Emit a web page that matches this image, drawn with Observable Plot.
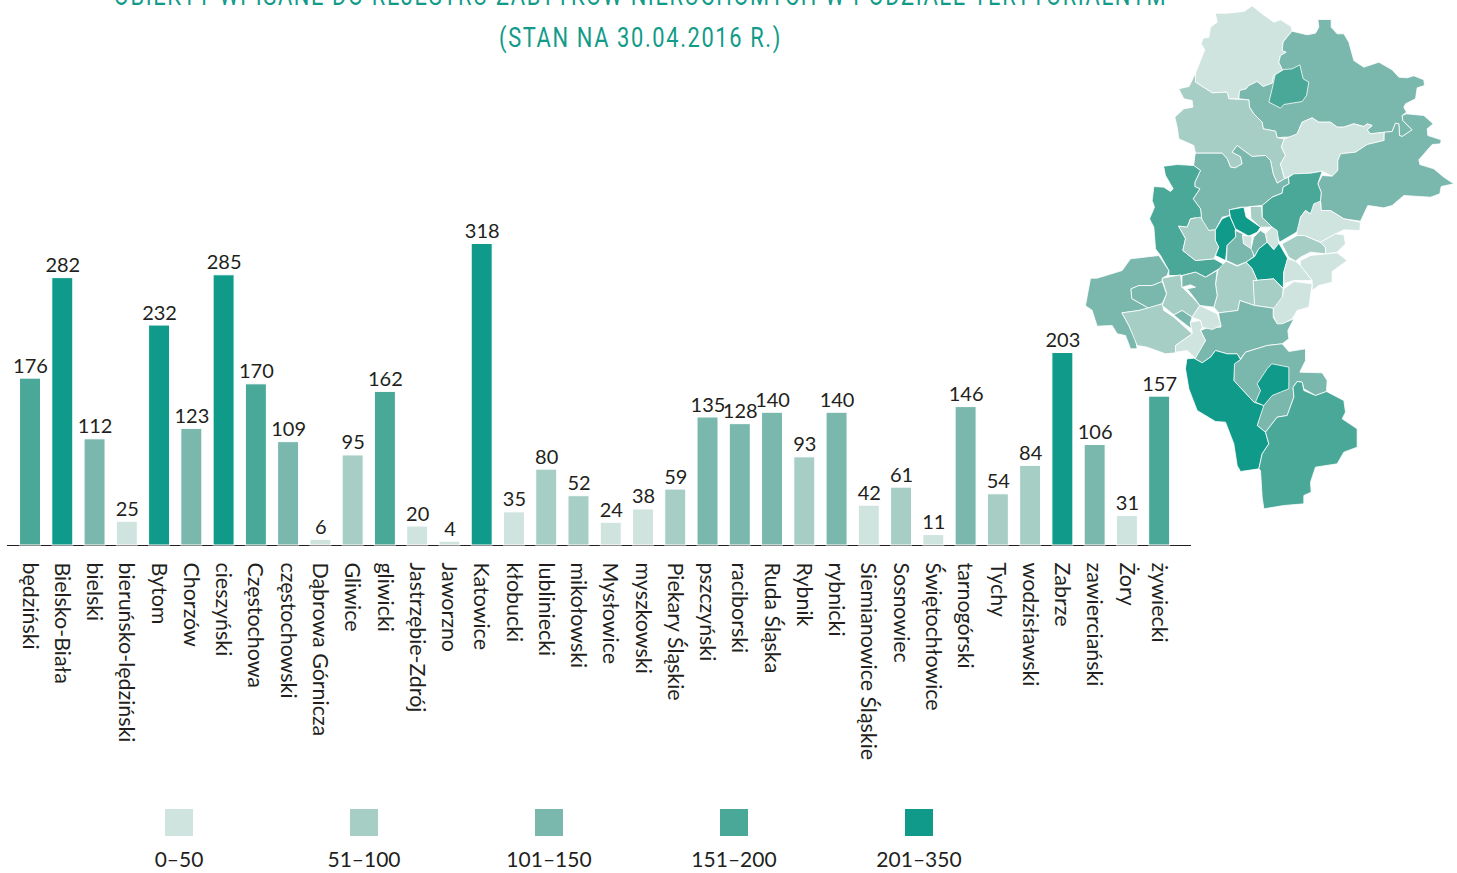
<!DOCTYPE html>
<html><head><meta charset="utf-8">
<script src="https://cdn.jsdelivr.net/npm/d3@7"></script>
<script src="https://cdn.jsdelivr.net/npm/@observablehq/plot@0.6"></script>
<style>
html,body{margin:0;padding:0;background:#fff;overflow:hidden}
#root{position:relative;width:1457px;height:873px;overflow:hidden;font-family:Lato,sans-serif;color:#231f20}
.t{position:absolute;left:-200px;width:1681px;text-align:center;color:#119b89;font-family:Roboto,sans-serif;font-size:27px;letter-spacing:2px;line-height:32px;white-space:nowrap;transform:scaleX(.81);transform-origin:840.5px 0}
#map{position:absolute;left:1080px;top:0}
#main{position:absolute;left:0;top:0}
.sw{position:absolute;top:809px;width:28px;height:27px}
.lb{position:absolute;top:846px;width:140px;text-align:center;font-size:21px;line-height:26px}
svg{overflow:visible}
</style></head><body><div id="root"></div>
<script>
const titleLines = ["OBIEKTY WPISANE DO REJESTRU ZABYTKÓW NIERUCHOMYCH W PODZIALE TERYTORIALNYM","(STAN NA 30.04.2016 R.)"];
const names = ["będziński","Bielsko-Biała","bielski","bieruńsko-lędziński","Bytom","Chorzów","cieszyński","Częstochowa","częstochowski","Dąbrowa Górnicza","Gliwice","gliwicki","Jastrzębie-Zdrój","Jaworzno","Katowice","kłobucki","lubliniecki","mikołowski","Mysłowice","myszkowski","Piekary Śląskie","pszczyński","raciborski","Ruda Śląska","Rybnik","rybnicki","Siemianowice Śląskie","Sosnowiec","Świętochłowice","tarnogórski","Tychy","wodzisławski","Zabrze","zawierciański","Żory","żywiecki"];
const values = [176,282,112,25,232,123,285,170,109,6,95,162,20,4,318,35,80,52,24,38,59,135,128,140,93,140,42,61,11,146,54,84,203,106,31,157];
const classLabels = ["0–50","51–100","101–150","151–200","201–350"];
const classBreaks = [51,101,151,201];
const classColors = ["#d0e4df","#a6cec5","#7ab7ad","#4aa899","#109a89"];

// Outlines of the powiats, in map units
const regionShapes = [
["kłobucki",[405,38,440,38,490,33,515,16,545,40,580,65,600,58,632,78,635,92,608,125,605,150,617,155,600,165,595,185,607,210,580,225,575,248,548,258,530,243,505,255,497,265,477,270,475,295,445,295,440,275,395,277,345,245,345,218,360,180,373,148,362,130,368,113,385,110,390,80,410,65]],
["częstochowski",[635,92,680,103,705,98,715,80,712,57,752,57,752,80,770,100,790,100,805,125,820,180,850,200,895,185,935,208,955,230,980,232,1000,226,1030,238,1032,255,1010,262,1005,295,975,310,970,320,978,335,965,345,967,360,995,388,965,408,957,405,955,370,945,368,935,393,870,400,860,388,875,375,860,370,850,378,820,370,790,380,770,380,750,365,715,365,695,352,665,365,650,400,640,410,610,410,590,412,585,392,548,385,545,365,520,340,507,320,505,298,475,295,477,270,497,265,505,255,530,243,548,258,575,248,580,225,607,210,595,185,600,165,617,155,605,150,608,125]],
["Częstochowa",[585,222,610,207,635,205,658,193,668,235,685,245,678,285,665,303,610,312,600,323,565,305,575,265]],
["lubliniecki",[345,218,345,245,395,277,440,275,445,295,505,298,507,320,520,340,545,365,548,385,585,392,590,412,612,415,603,440,615,465,600,490,612,535,590,548,578,520,570,480,555,465,515,468,490,450,470,435,455,455,480,468,485,490,465,502,450,500,440,475,425,458,345,458,340,435,295,415,290,380,283,350,310,325,337,320,335,300,310,295,295,265,325,258]],
["myszkowski",[612,415,650,400,665,365,695,352,715,365,750,365,770,380,790,380,820,370,850,378,860,370,875,375,860,388,870,400,912,395,910,420,860,432,825,455,780,460,772,480,772,510,755,527,725,512,690,518,640,520,612,535,600,490,615,465,603,440]],
["zawierciański",[912,395,935,393,945,368,955,370,957,405,965,408,995,388,967,360,965,345,978,340,1030,345,1058,370,1040,385,1042,405,1082,418,1080,430,1055,432,1015,478,1018,492,1060,505,1090,530,1120,550,1082,558,1078,580,1050,590,970,585,935,615,910,622,862,615,840,662,790,655,750,630,722,630,720,600,722,575,712,550,725,525,755,527,772,510,772,480,780,460,825,455,860,432,910,420]],
["tarnogórski",[345,458,425,458,440,475,450,500,465,502,485,490,480,468,455,455,470,435,490,450,515,468,555,465,570,480,578,520,590,548,612,535,625,530,625,550,608,560,605,578,575,590,545,615,510,618,497,620,480,620,447,628,447,645,425,650,405,688,385,690,365,668,360,625,338,595,358,565,343,558,343,545,360,510,340,495]],
["będziński",[625,530,640,520,690,518,725,512,712,550,722,575,720,600,700,625,690,640,675,630,660,650,655,690,640,700,597,725,585,690,545,650,545,615,575,590,605,578,608,560,625,550]],
["gliwicki",[250,497,290,492,340,495,360,510,343,545,343,558,358,565,338,595,360,625,365,668,345,652,330,655,320,680,295,677,315,715,307,750,345,780,400,775,437,795,410,808,375,830,345,815,305,825,265,825,265,810,240,765,225,745,220,680,207,655,222,620,215,600,220,558,250,560,270,573,278,565,255,525]],
["Gliwice",[295,677,320,680,330,655,360,650,385,690,405,688,405,720,415,740,400,775,345,780,307,750,315,715]],
["Zabrze",[405,688,425,655,447,645,465,685,465,710,440,735,435,780,405,765,415,740,405,720]],
["Bytom",[447,628,490,620,497,650,540,680,530,695,505,707,465,685,450,650]],
["Ruda Śląska",[465,690,487,700,490,730,515,745,520,768,497,785,470,795,438,780,440,735,465,710]],
["Świętochłowice",[487,705,515,707,512,745,490,730]],
["Chorzów",[520,710,540,690,555,700,560,725,535,745,522,768,512,745]],
["Piekary Śląskie",[510,618,543,618,545,650,575,680,540,680,512,655]],
["Siemianowice Śląskie",[575,680,590,690,597,740,585,750,560,725,555,700]],
["Katowice",[535,745,560,725,580,748,595,728,622,775,610,815,608,863,580,835,530,840,515,805,497,785,522,768]],
["Sosnowiec",[605,730,650,705,672,705,722,727,735,742,735,760,690,755,660,770,645,782,625,770]],
["Dąbrowa Górnicza",[650,690,660,650,675,630,690,640,700,610,720,602,722,630,750,630,790,655,840,665,838,690,790,688,765,700,720,725,672,705,650,705]],
["Jaworzno",[720,725,765,700,790,703,795,730,770,755,735,760,735,742]],
["Mysłowice",[622,775,645,782,660,795,695,840,640,840,610,850,610,815]],
["Jaworzno",[660,780,690,765,770,757,800,780,755,813,755,845,715,855,695,870,695,840,660,795]],
["bieruńsko-lędziński",[610,865,640,843,695,850,690,885,685,920,650,930,635,955,605,970,590,970,578,945,580,910,605,890]],
["Tychy",[518,840,580,835,608,865,605,890,580,923,522,915]],
["mikołowski",[437,782,470,797,497,785,515,805,530,840,518,840,522,915,478,900,472,930,415,937,400,920,410,885,405,850,412,810]],
["pszczyński",[415,937,472,930,478,900,522,915,578,923,578,950,590,970,605,970,640,955,622,990,625,1015,605,1030,560,1035,495,1055,480,1075,470,1060,440,1060,405,1050,390,1070,365,1087,340,1073,375,1020,360,990,385,980,420,980]],
["Rybnik",[245,833,300,823,305,860,340,895,358,915,335,950,305,930,280,943,245,915,258,880]],
["rybnicki",[305,825,345,815,375,830,410,810,405,850,410,885,400,920,358,915,340,890,320,865,345,860,330,853,305,860]],
["raciborski",[15,915,30,833,50,833,125,810,150,775,235,765,265,810,260,825,245,833,245,843,215,855,175,855,152,865,155,895,205,923,175,930,125,937,145,975,165,1015,170,1045,150,1045,135,1005,110,1000,95,975,50,977,35,930]],
["raciborski",[152,865,175,855,215,855,245,843,258,880,245,910,205,923,155,895]],
["wodzisławski",[125,937,175,930,245,910,250,930,280,950,335,1000,285,1035,285,1057,255,1060,200,1040,170,1035,145,975]],
["rybnicki",[280,943,305,930,335,950,330,965,333,985,300,960]],
["Żory",[335,950,358,915,410,940,422,975,395,987,365,980,360,960]],
["Jastrzębie-Zdrój",[330,965,360,960,365,980,360,990,375,1020,345,1073,320,1050,285,1055,285,1035,335,1000]],
["bielski",[480,1077,495,1055,560,1035,605,1030,625,1053,675,1045,675,1080,658,1115,725,1117,740,1140,738,1173,705,1185,670,1165,665,1145,650,1143,638,1160,640,1190,620,1245,590,1250,555,1295,530,1275,545,1215,520,1205,460,1140,460,1090]],
["cieszyński",[320,1075,340,1073,365,1087,390,1070,405,1050,440,1060,470,1060,480,1077,462,1090,460,1140,520,1205,550,1215,530,1275,555,1295,565,1330,545,1360,535,1405,480,1413,470,1395,460,1330,435,1265,405,1263,350,1230,325,1165,315,1105]],
["Bielsko-Biała",[575,1090,625,1100,625,1165,600,1175,575,1185,550,1215,525,1205,540,1170,530,1150,560,1105]],
["żywiecki",[638,1160,650,1143,665,1145,670,1170,705,1185,738,1173,790,1200,795,1235,785,1255,830,1285,830,1340,790,1355,770,1390,705,1400,690,1445,692,1475,670,1485,670,1510,610,1515,550,1525,545,1490,540,1410,535,1405,545,1360,565,1330,555,1295,590,1250,620,1245,640,1190]]
];

const valueOf = new Map(names.map((n,i)=>[n,values[i]]));
const mapRows = regionShapes.flatMap(([name,c],r)=>d3.range(0,c.length,2).map(i=>({r,name,px:c[i],py:c[i+1],value:valueOf.get(name)})));
const color = {type:"threshold",domain:classBreaks,range:classColors};
const table = names.map((name,i)=>({name,value:values[i]}));

const root = document.getElementById("root");
const chart = Plot.plot({
  width:1457,height:790,marginLeft:7,marginRight:266,marginTop:0,marginBottom:245,
  style:{fontFamily:"Lato, sans-serif",background:"transparent",color:"#231f20",overflow:"visible"},
  x:{domain:names,range:[13.9,1175.3],paddingInner:.35,paddingOuter:.175,align:.5,round:false,axis:null},
  y:{domain:[0,318],range:[545,243.5],axis:null},
  color,
  marks:[
    Plot.ruleY([0],{stroke:"#231f20",strokeWidth:1}),
    Plot.barY(table,{x:"name",y:"value",fill:d=>d.value,stroke:"#fff",strokeWidth:1}),
    Plot.text(table,{x:"name",y:"value",text:"value",lineAnchor:"bottom",dy:-6,fontSize:20,fill:"#231f20"}),
    Plot.axisX({anchor:"bottom",tickSize:0,tickPadding:17,tickRotate:90,fontSize:21.4,label:null,fill:"#231f20",lineHeight:1,dx:-1})
  ]
});
chart.id="main";
const map = Plot.plot({
  width:377,height:520,margin:0,
  style:{background:"transparent",overflow:"visible"},
  x:{domain:[0,1131],range:[0,377],axis:null},
  y:{domain:[0,1560],range:[0,520],axis:null},
  color,
  marks:[Plot.line(mapRows,{x:"px",y:"py",z:"r",fill:"value",stroke:"#fff",strokeWidth:0.8,curve:"linear-closed"})]
});
map.id="map";
root.append(chart,map);
titleLines.forEach((s,i)=>{const d=document.createElement("div");d.className="t";d.textContent=s;d.style.top=(i?22:-20)+"px";root.append(d);});
classLabels.forEach((s,i)=>{
  const c=179+185*i;
  const a=document.createElement("div");a.className="sw";a.style.left=(c-14)+"px";a.style.background=classColors[i];root.append(a);
  const b=document.createElement("div");b.className="lb";b.style.left=(c-70)+"px";b.textContent=s;root.append(b);
});
</script></body></html>
